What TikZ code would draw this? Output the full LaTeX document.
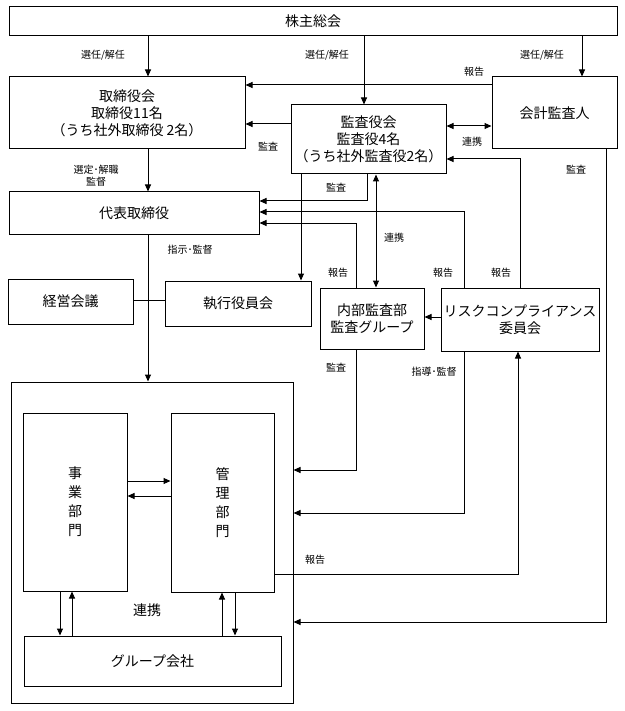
\documentclass[tikz,border=0pt]{standalone}
\usepackage{fontspec}
\setmainfont{Noto Sans CJK JP}
\usetikzlibrary{arrows.meta}

\begin{document}
\begin{tikzpicture}[x=1pt,y=-1pt,line width=1pt,
    box/.style={draw,inner sep=0pt,align=center,font=\fontsize{14}{17}\selectfont},
    lbl/.style={inner sep=0pt,align=center,font=\fontsize{10}{12}\selectfont},
    arr/.style={-{Triangle[length=7pt,width=6pt]}},
    darr/.style={{Triangle[length=7pt,width=6pt]}-{Triangle[length=7pt,width=6pt]}}]
    \useasboundingbox (0,0) rectangle (624,711);
    \node[box,minimum width=608pt,minimum height=29pt](soukai)at(313,21.5){株主総会};
    \node[box,minimum width=236pt,minimum height=72pt](tori)at(127,113){取締役会\\取締役11名\\（うち社外取締役 2名）};
    \node[box,minimum width=125pt,minimum height=72pt](kaikei)at(554.5,113){会計監査人};
    \node[box,minimum width=155pt,minimum height=69pt](kansa)at(368.5,139.5){監査役会\\監査役4名\\（うち社外監査役2名）};
    \node[box,minimum width=250pt,minimum height=42pt](daihyo)at(134,213){代表取締役};
    \node[box,minimum width=125pt,minimum height=45pt](keiei)at(70.5,301.5){経営会議};
    \node[box,minimum width=146pt,minimum height=45pt](shikkou)at(238,303.5){執行役員会};
    \node[box,minimum width=104pt,minimum height=61pt](naibu)at(372,318.5){内部監査部\\監査グループ};
    \node[box,minimum width=158pt,minimum height=63pt](risk)at(520,319.5){リスクコンプライアンス\\委員会};
    \node[box,minimum width=282pt,minimum height=321pt](group)at(152,542.5){};
    \node[box,minimum width=104pt,minimum height=178pt,font=\fontsize{14}{19}\selectfont](jigyo)at(75,502){事\\業\\部\\門};
    \node[box,minimum width=103pt,minimum height=179pt,font=\fontsize{14}{19}\selectfont](kanri)at(222.5,502.5){管\\理\\部\\門};
    \node[box,minimum width=257pt,minimum height=50pt](gcompany)at(152.5,661){グループ会社};
    % shareholders
    \draw[arr](soukai.south -| 148,0)--(tori.north -| 148,0);
    \draw[arr](soukai.south -| 364,0)--(kansa.north -| 364,0);
    \draw[arr](soukai.south -| 582,0)--(kaikei.north -| 582,0);
    \node[lbl](l1)at(103,55){選任/解任};
    \node[lbl](l2)at(327,55){選任/解任};
    \node[lbl](l3)at(542,55){選任/解任};
    % audit
    \draw[arr](kaikei.west |- 0,85)--(tori.east |- 0,85);
    \node[lbl](l4)at(474,72){報告};
    \draw[arr](kansa.west |- 0,124)--(tori.east |- 0,124);
    \node[lbl](l5)at(268,147){監査};
    \draw[darr](kansa.east |- 0,126)--(kaikei.west |- 0,126);
    \node[lbl](l6)at(472,142){連携};
    \draw[arr](tori.south -| 148,0)--(daihyo.north -| 148,0);
    \node[lbl](l7)at(96,176){選定･解職\\監督};
    \draw[arr](kansa.south -| 301,0)--(shikkou.north -| 301,0);
    \draw[arr](kansa.south -| 367,0)|-(daihyo.east |- 0,201);
    \node[lbl](l8)at(336,188){監査};
    \draw[darr](kansa.south -| 376,0)--(naibu.north -| 376,0);
    \node[lbl](l9)at(394,238){連携};
    % reports
    \draw[arr](risk.north -| 520,0)|-(kansa.east |- 0,159);
    \draw[arr](risk.north -| 464,0)|-(daihyo.east |- 0,212);
    \draw[arr](naibu.north -| 356,0)|-(daihyo.east |- 0,223);
    \node[lbl](l10)at(338,273){報告};
    \node[lbl](l11)at(443,273){報告};
    \node[lbl](l12)at(501,273){報告};
    \draw[arr](risk.west |- 0,317)--(naibu.east |- 0,317);
    % execution
    \draw[arr](daihyo.south -| 148,0)--(group.north -| 148,0);
    \node[lbl](l13)at(190,250){指示･監督};
    \draw(keiei.east |- 0,300)--(shikkou.west |- 0,300);
    \draw[arr](naibu.south -| 356,0)|-(group.east |- 0,470);
    \node[lbl](l14)at(336,368){監査};
    \draw[arr](risk.south -| 464,0)|-(group.east |- 0,513);
    \node[lbl](l15)at(434,372){指導･監督};
    \draw[arr](kaikei.south -| 606,0)|-(group.east |- 0,622);
    \node[lbl](l16)at(576,170){監査};
    \draw[arr](kanri.east |- 0,574)-|(risk.south -| 518,0);
    \node[lbl](l17)at(315,560){報告};
    % inside the group
    \draw[arr](jigyo.east |- 0,481)--(kanri.west |- 0,481);
    \draw[arr](kanri.west |- 0,496)--(jigyo.east |- 0,496);
    \draw[arr](jigyo.south -| 60,0)--(gcompany.north -| 60,0);
    \draw[arr](gcompany.north -| 72,0)--(jigyo.south -| 72,0);
    \draw[arr](gcompany.north -| 222,0)--(kanri.south -| 222,0);
    \draw[arr](kanri.south -| 235,0)--(gcompany.north -| 235,0);
    \node[lbl,font=\fontsize{14}{17}\selectfont](l18)at(147,610){連携};
\end{tikzpicture}
\end{document}
